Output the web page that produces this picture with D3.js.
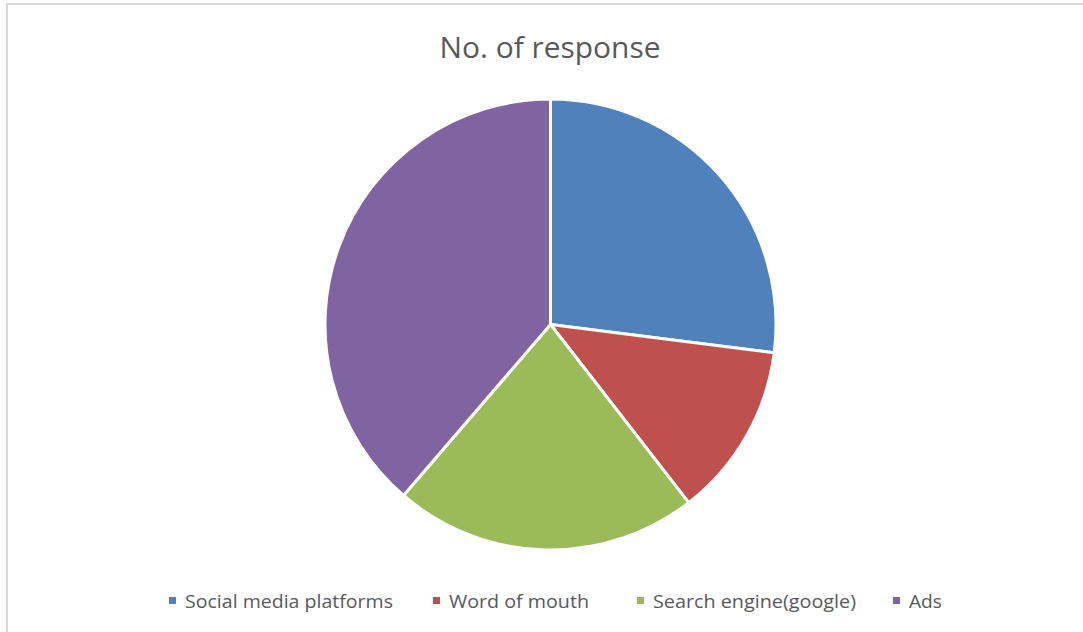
<!DOCTYPE html>
<html>
<head>
<meta charset="utf-8">
<script src="https://cdn.jsdelivr.net/npm/d3@7"></script>
<style>
  html, body { margin: 0; padding: 0; background: #fff; }
  svg { display: block; }
</style>
</head>
<body>
<svg id="chart" width="1083" height="632"></svg>
<script>
// Survey: where respondents heard about the product
const categories = ["Social media platforms", "Word of mouth", "Search engine(google)", "Ads"];
const responses = [27, 12.5, 21.8, 38.7];
const colors = ["#4F81BD", "#C0504D", "#9BBB59", "#8064A2"];
const title = "No. of response";

const W = 1083, H = 632;
const svg = d3.select("#chart");
const font = "'Open Sans', 'Liberation Sans', sans-serif";

// chart area frame
svg.append("rect")
  .attr("x", 7).attr("y", 4)
  .attr("width", W + 10).attr("height", H + 10)
  .attr("fill", "#fff")
  .attr("stroke", "#d9d9d9").attr("stroke-width", 2);

// title
svg.append("text")
  .attr("x", 550).attr("y", 58)
  .attr("text-anchor", "middle")
  .attr("font-family", font)
  .attr("font-size", 28.5)
  .attr("fill", "#595959")
  .attr("textLength", 221)
  .attr("lengthAdjust", "spacingAndGlyphs")
  .text(title);

// pie
const cx = 550.5, cy = 324.5, r = 225.5;
const data = categories.map((c, i) => ({ name: c, value: responses[i], color: colors[i] }));
const pie = d3.pie().value(d => d.value).sort(null);
const arc = d3.arc().innerRadius(0).outerRadius(r);

svg.append("g")
  .attr("transform", `translate(${cx},${cy})`)
  .selectAll("path")
  .data(pie(data))
  .join("path")
  .attr("d", arc)
  .attr("fill", d => d.data.color)
  .attr("stroke", "#fff")
  .attr("stroke-width", 3)
  .attr("stroke-linejoin", "round");

// legend
const legendX = [169, 433, 637, 893];
const legendW = [208, 140, 203, 33];
const legendY = 601;
const lg = svg.append("g");
data.forEach((d, i) => {
  lg.append("rect")
    .attr("x", legendX[i]).attr("y", legendY - 4)
    .attr("width", 7).attr("height", 7)
    .attr("fill", d.color);
  lg.append("text")
    .attr("x", legendX[i] + 16).attr("y", legendY + 7)
    .attr("font-family", font)
    .attr("font-size", 19)
    .attr("fill", "#595959")
    .attr("textLength", legendW[i])
    .attr("lengthAdjust", "spacingAndGlyphs")
    .text(d.name);
});
</script>
</body>
</html>
